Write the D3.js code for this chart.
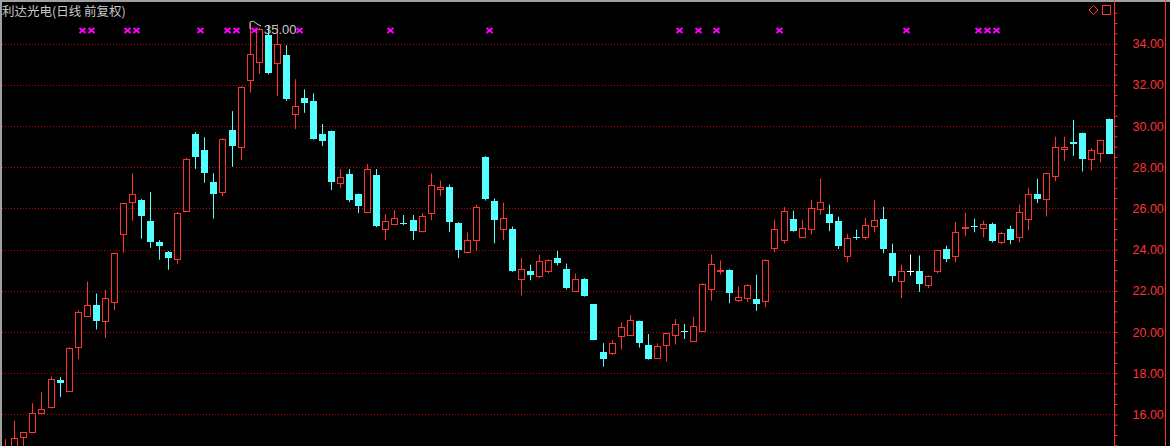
<!DOCTYPE html>
<html><head><meta charset="utf-8">
<script src="https://cdn.jsdelivr.net/npm/d3@7"></script>
<style>html,body{margin:0;padding:0;background:#000;overflow:hidden}</style>
</head><body>
<svg id="c" width="1170" height="446"></svg>
<script>
const title = "利达光电(日线 前复权)";
const opens = [14.0,14.3,14.89,15.13,16.05,16.37,17.66,17.15,19.27,20.77,21.29,20.53,21.45,24.78,26.32,26.40,25.38,24.35,23.88,23.52,
25.88,29.60,28.83,27.27,26.80,29.80,29.00,32.21,33.11,34.40,33.08,33.43,30.56,31.35,31.20,29.61,29.76,27.25,27.67,26.70,
25.84,27.62,25.01,25.26,25.30,25.43,24.88,25.77,26.93,27.06,25.31,23.88,24.46,28.51,26.38,24.99,25.02,22.56,22.98,22.70,
22.95,23.60,23.07,21.98,22.59,21.34,19.02,18.96,19.79,19.87,20.53,19.37,18.76,19.39,19.87,20.05,19.58,20.06,22.11,22.97,
23.03,21.56,21.65,21.61,21.52,24.06,24.45,25.48,24.61,25.00,25.95,25.74,25.40,23.68,24.63,24.60,25.13,25.50,23.85,22.47,
22.98,22.98,22.27,22.95,24.05,23.68,25.03,25.13,25.03,25.26,24.35,25.02,24.61,25.48,26.69,26.45,27.56,28.89,29.23,29.66,
28.39,28.68,30.34];
const highs = [14.8,15.68,15.15,16.55,17.08,17.84,17.81,19.26,21.05,22.45,21.87,22.05,23.86,26.26,27.71,26.45,26.79,24.46,23.93,25.82,
28.44,29.70,29.46,27.71,29.41,30.72,31.93,35.00,34.75,34.90,34.95,33.92,32.27,31.78,31.59,30.10,29.78,27.91,27.91,26.72,
28.15,27.91,25.72,25.92,25.68,25.68,25.78,27.69,27.35,27.16,25.33,24.83,26.17,28.53,26.48,26.28,25.12,23.60,23.27,23.75,
23.53,23.94,23.32,22.83,22.61,21.36,19.46,19.60,20.47,20.82,20.55,19.90,19.45,19.97,20.63,20.39,20.73,22.37,23.77,23.47,
23.05,22.21,22.31,22.79,23.52,25.45,26.06,25.89,25.45,26.42,27.44,26.18,25.60,24.77,24.97,25.55,26.42,26.08,24.29,23.27,
23.76,23.71,22.75,23.99,24.19,25.35,25.79,25.50,25.40,25.31,24.87,25.16,26.18,27.00,27.44,27.73,29.48,29.48,30.29,29.68,
28.92,29.34,30.36];
const lows = [13.8,14.2,14.4,15.08,16.0,16.29,16.85,17.13,18.68,20.73,20.13,19.71,21.06,23.85,25.40,24.53,24.09,23.51,23.02,23.31,
25.86,27.92,27.24,25.50,26.61,28.02,28.36,31.62,32.53,32.51,31.46,31.22,29.86,30.64,29.34,29.03,26.89,26.99,26.31,25.77,
25.82,25.09,24.46,25.21,25.19,24.46,24.83,25.43,26.59,24.85,23.59,23.84,23.93,26.38,24.30,24.46,22.92,21.77,22.51,22.61,
22.85,23.23,22.06,21.96,21.72,19.60,18.32,18.89,19.15,19.82,19.24,18.66,18.71,18.56,19.39,19.66,19.56,20.04,21.52,22.79,
21.40,21.45,21.45,21.02,21.21,23.87,24.29,24.87,24.60,24.73,25.69,24.89,24.03,23.39,24.48,24.48,24.84,23.82,22.42,21.65,
22.74,21.95,22.13,22.85,23.39,23.39,24.65,24.84,24.60,24.35,24.26,24.26,24.35,24.94,26.26,25.61,27.32,28.31,28.55,27.79,
27.84,28.23,28.64];
const closes = [14.4,14.84,15.13,16.05,16.24,17.74,17.53,19.24,20.98,21.32,20.52,21.66,23.84,26.24,26.68,25.64,24.38,24.19,23.60,25.80,
28.42,28.50,27.73,26.71,29.39,29.04,31.91,33.51,34.73,32.58,34.00,31.30,30.99,31.12,29.38,29.27,27.30,27.52,26.40,26.11,
27.91,25.14,25.38,25.53,25.27,24.90,25.65,27.14,27.04,25.33,23.97,24.47,26.07,26.48,25.43,25.51,22.94,23.07,22.75,23.46,
23.51,23.33,22.13,22.59,21.74,19.62,18.70,19.46,20.23,20.56,19.48,18.69,19.31,19.95,20.37,20.01,20.27,22.35,23.32,23.03,
21.89,21.71,22.29,21.35,23.50,25.00,25.87,24.92,25.05,26.02,26.31,25.27,24.16,24.56,24.60,25.19,25.44,24.02,22.71,22.97,
22.98,22.31,22.73,23.97,23.52,24.87,25.11,25.10,25.24,24.40,24.81,24.48,25.82,26.69,26.48,27.71,28.97,28.98,29.13,28.42,
28.84,29.32,28.66];
const gridTicks = [16,18,20,22,24,26,28,30,32,34];
const markerIdx = [8,9,13,14,21,24,25,27,32,42,53,74,76,78,85,99,107,108,109];

const RED = "#ff3232", CYAN = "#54ffff", WHITE = "#ffffff";
const n = opens.length;
const x = d3.scaleLinear().domain([0, n - 1]).range([5.3, 1109.3]);
const y = d3.scaleLinear().domain([16, 34]).range([414.4, 43.6]);
const svg = d3.select("#c");
svg.append("rect").attr("width", 1170).attr("height", 446).attr("fill", "#000");

// frame
svg.append("rect").attr("x", 0).attr("y", 0).attr("width", 1170).attr("height", 2).attr("fill", "#a0a0a0");
svg.append("rect").attr("x", 0).attr("y", 0).attr("width", 2).attr("height", 446).attr("fill", "#a0a0a0");

// grid
svg.append("g").selectAll("line").data(gridTicks).join("line")
  .attr("x1", 2).attr("x2", 1114)
  .attr("y1", d => Math.round(y(d)) + 0.5).attr("y2", d => Math.round(y(d)) + 0.5)
  .attr("stroke", "#c80000").attr("stroke-width", 1).attr("stroke-dasharray", "1,2");

// axis
const axisG = svg.append("g").attr("transform", "translate(1114.5,0)");
const minor = d3.axisRight(y).tickValues(d3.range(14.5, 36, 0.5)).tickSize(3).tickFormat("");
const major = d3.axisRight(y).tickValues(gridTicks).tickSize(0).tickPadding(18).tickFormat(d3.format(".2f"));
axisG.append("g").call(minor).call(g => g.select(".domain").remove())
  .selectAll("line").attr("stroke", RED);
axisG.append("g").call(major).call(g => g.select(".domain").remove())
  .selectAll("text").attr("fill", RED).attr("font-size", 12.5).attr("font-family", "'Liberation Sans', Arial, sans-serif");
svg.append("line").attr("x1", 1114.5).attr("x2", 1114.5).attr("y1", 0).attr("y2", 446).attr("stroke", RED);
svg.append("line").attr("x1", 1165.5).attr("x2", 1165.5).attr("y1", 0).attr("y2", 446).attr("stroke", RED);

// candles
const cg = svg.append("g");
for (let i = 0; i < n; i++) {
  const c = Math.round(x(i)) + 0.5;
  const o = opens[i], h = highs[i], l = lows[i], cl = closes[i];
  const yo = y(o), yc = y(cl), yh = y(h), yl = y(l);
  if (cl > o) {
    const top = Math.round(yc) + 0.5, bot = Math.max(Math.round(yo), Math.round(yc) + 1) + 0.5;
    cg.append("line").attr("x1", c).attr("x2", c).attr("y1", yh).attr("y2", top).attr("stroke", RED);
    cg.append("line").attr("x1", c).attr("x2", c).attr("y1", bot).attr("y2", yl).attr("stroke", RED);
    cg.append("rect").attr("x", c - 3).attr("y", top).attr("width", 6).attr("height", bot - top)
      .attr("fill", "#000").attr("stroke", RED).attr("stroke-width", 1);
  } else if (cl < o) {
    cg.append("line").attr("x1", c).attr("x2", c).attr("y1", yh).attr("y2", yl).attr("stroke", CYAN);
    const top = Math.round(yo), hgt = Math.max(1, Math.round(yc) - Math.round(yo));
    cg.append("rect").attr("x", c - 3.5).attr("y", top).attr("width", 7).attr("height", hgt).attr("fill", CYAN);
  } else {
    cg.append("line").attr("x1", c).attr("x2", c).attr("y1", yh).attr("y2", yl).attr("stroke", WHITE);
    cg.append("line").attr("x1", c - 3.5).attr("x2", c + 3.5).attr("y1", Math.round(yc) + 0.5).attr("y2", Math.round(yc) + 0.5).attr("stroke", WHITE);
  }
}

// markers
svg.append("g").selectAll("path").data(markerIdx).join("path")
  .attr("transform", d => `translate(${Math.round(x(d) + 4.5) + 0.5},30.5)`)
  .attr("d", "M-3,-2.5L3,2.5M-3,2.5L3,-2.5")
  .attr("stroke", "#ff00ff").attr("stroke-width", 2).attr("fill", "none");

// highest marker
const hi = d3.maxIndex(highs);
const hx = Math.round(x(hi)), hy = y(highs[hi]);
svg.append("path")
  .attr("d", `M${hx},${hy + 6}L${hx},${hy - 1}L${hx + 3},${hy - 2}L${hx + 7},${hy + 1}L${hx + 11},${hy + 3}`)
  .attr("stroke", "#c8c8c8").attr("fill", "none").attr("stroke-width", 1);
svg.append("text").attr("x", hx + 14).attr("y", hy + 11).text(highs[hi].toFixed(2))
  .attr("fill", "#c8c8c8").attr("font-size", 13).attr("font-family", "'Liberation Sans', Arial, sans-serif");

// title
svg.append("text").attr("x", 2).attr("y", 16).text(title)
  .attr("fill", "#c8c8c8").attr("font-size", 12.5).attr("font-family", "'Noto Sans CJK SC', sans-serif");

// top-right icons
svg.append("path").attr("d", "M1093.5,5.5L1098,10L1093.5,14.5L1089,10Z").attr("fill", "none").attr("stroke", RED);
svg.append("rect").attr("x", 1102.5).attr("y", 5.5).attr("width", 8).attr("height", 9).attr("fill", "none").attr("stroke", RED);
</script>
</body></html>
